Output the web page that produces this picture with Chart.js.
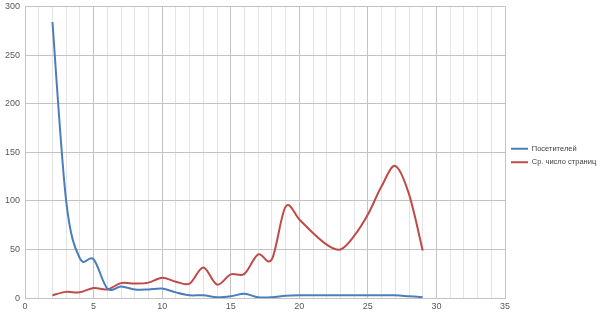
<!DOCTYPE html>
<html>
<head>
<meta charset="utf-8">
<script src="https://cdn.jsdelivr.net/npm/chart.js@4"></script>
<style>
html,body{margin:0;padding:0;background:#fff;overflow:hidden;}
#wrap{width:600px;height:315px;position:relative;overflow:hidden;}
#c{position:absolute;left:0;top:-4px;}
</style>
</head>
<body>
<div id="wrap"><canvas id="c" width="600" height="319"></canvas></div>
<script>
const days = [2,3,4,5,6,7,8,9,10,11,12,13,14,15,16,17,18,19,20,21,22,23,24,25,26,27,28,29];
const visitors = [284,100,41,40,10,12,9,9,10,6,3,3,1,2,4.5,1,1,2.5,3,3,3,3,3,3,3,3,2,1];
const pages = [3,6.5,6,10.5,9,15.5,15,16,21,17,15,31.5,14,24.5,25,45,40,94,81,67,55,50,64,86,115,136,107,49];
const seriesNames = ["Посетителей","Ср. число страниц"];
const xTicks = [0,5,10,15,20,25,30,35];
const yTicks = [0,50,100,150,200,250,300];

const tickFont = {family:"'Liberation Sans', Arial, sans-serif", size:9};
const legendFont = {family:"'Liberation Sans', Arial, sans-serif", size:7.5};

// Excel-like smoothing: uniform Catmull-Rom control points on the library's own point elements
const excelSmooth = {
  id:'excelSmooth',
  beforeDatasetDraw(chart, args){
    const meta = args.meta;
    const line = meta.dataset;
    if(!line) return;
    line.updateControlPoints(chart.chartArea, 'x');
    const pts = meta.data;
    for(let i=0;i<pts.length;i++){
      const p = pts[i], prev = pts[i-1]||p, next = pts[i+1]||p;
      const tx = (next.x-prev.x)/6, ty = (next.y-prev.y)/6;
      p.cp1x = p.x - tx; p.cp1y = p.y - ty;
      p.cp2x = p.x + tx; p.cp2y = p.y + ty;
    }
    line._path = undefined;
  }
};

new Chart(document.getElementById('c'), {
  type:'line',
  data:{
    datasets:[
      {label:seriesNames[0], data:days.map((d,i)=>({x:d,y:visitors[i]})), borderColor:'#4a7ebb', backgroundColor:'#4a7ebb', borderWidth:2, pointRadius:0, tension:0.3, fill:false},
      {label:seriesNames[1], data:days.map((d,i)=>({x:d,y:pages[i]})), borderColor:'#be4b48', backgroundColor:'#be4b48', borderWidth:2, pointRadius:0, tension:0.3, fill:false}
    ]
  },
  plugins:[excelSmooth],
  options:{
    responsive:false,
    animation:false,
    devicePixelRatio:1,
    layout:{padding:{left:0,right:0,top:0,bottom:0}},
    plugins:{
      tooltip:{enabled:false},
      legend:{
        position:'right',
        align:'center',
        maxWidth:95,
        labels:{usePointStyle:true, pointStyle:'line', pointStyleWidth:17, boxHeight:8, padding:6, color:'#404040', font:legendFont}
      }
    },
    scales:{
      x:{
        type:'linear', min:xTicks[0], max:xTicks[xTicks.length-1],
        ticks:{stepSize:1, autoSkip:false, maxRotation:0, color:'#595959', font:tickFont, padding:3,
          callback:(v)=> xTicks.includes(v) ? String(v) : ''},
        grid:{drawTicks:false, color:(ctx)=> (ctx.tick && ctx.tick.value%5===0) ? '#c3c3c3' : '#e4e4e4', lineWidth:1},
        border:{color:'#c3c3c3'}
      },
      y:{
        min:yTicks[0], max:yTicks[yTicks.length-1],
        ticks:{stepSize:50, color:'#595959', font:tickFont, padding:5},
        grid:{drawTicks:false, color:'#c3c3c3'},
        border:{color:'#c3c3c3'}
      }
    }
  }
});
</script>
</body>
</html>
